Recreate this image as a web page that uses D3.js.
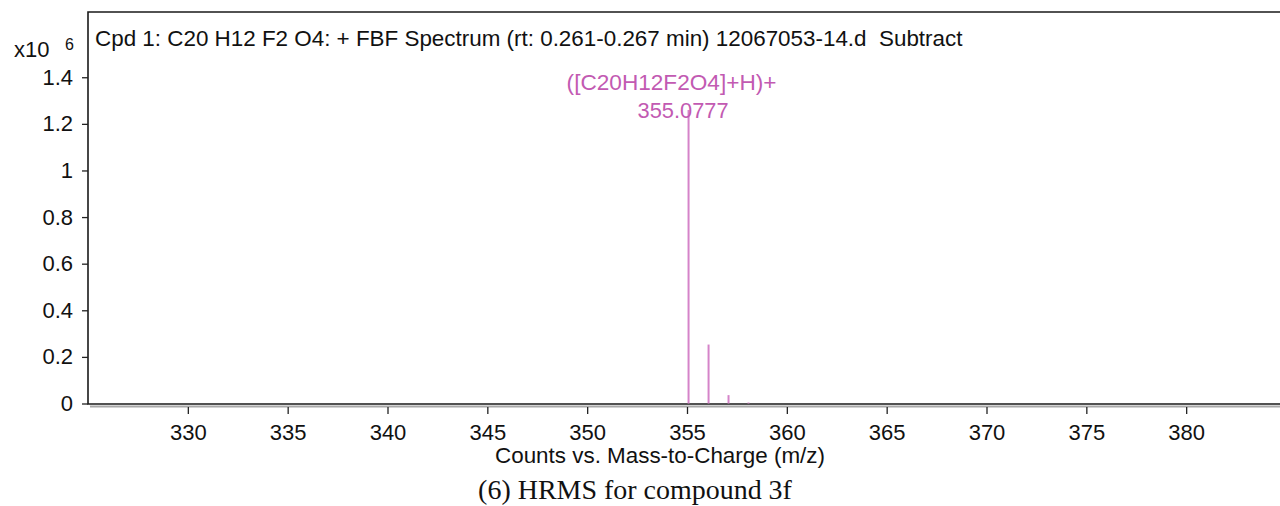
<!DOCTYPE html>
<html>
<head>
<meta charset="utf-8">
<script src="https://cdn.jsdelivr.net/npm/d3@7"></script>
<style>
  html, body { margin: 0; padding: 0; background: #fff; }
  svg { display: block; }
  text { font-family: "Liberation Sans", Arial, Helvetica, sans-serif; fill: #111; }
</style>
</head>
<body>
<svg id="chart" width="1280" height="506"></svg>
<script>
// Spectrum peaks: m/z and abundance (counts)
const peakMz = [355.0777, 356.08, 357.08, 358.08];
const peakCounts = [1.26e6, 0.253e6, 0.036e6, 0.004e6];

// Axis ticks
const xTicks = [330, 335, 340, 345, 350, 355, 360, 365, 370, 375, 380];
const yTicks = [0, 0.2, 0.4, 0.6, 0.8, 1, 1.2, 1.4];   // x10^6

// Annotation of the base peak
const peakLabelIon = "([C20H12F2O4]+H)+";
const peakLabelMz = "355.0777";

const titleText = "Cpd 1: C20 H12 F2 O4: + FBF Spectrum (rt: 0.261-0.267 min) 12067053-14.d\u00a0\u00a0Subtract";
const xAxisTitle = "Counts vs. Mass-to-Charge (m/z)";
const captionText = "(6) HRMS for compound 3f";

const svg = d3.select("#chart");
const frame = { left: 88, top: 12, bottom: 404, right: 1286 };

const x = d3.scaleLinear().domain([325, 385]).range([frame.left, frame.right]);
const y = d3.scaleLinear().domain([0, 1.68e6]).range([frame.bottom - 0.5, frame.top]);

// size a text element so it spans the given width
function fitWidth(sel, width) {
  const base = parseFloat(sel.attr("font-size"));
  const w = sel.node().getComputedTextLength();
  sel.attr("font-size", (base * width / w).toFixed(2));
  return sel;
}

// plot frame: top and left borders, baseline with grey shadow
svg.append("line")
  .attr("x1", frame.left + 2).attr("x2", 1280)
  .attr("y1", frame.bottom + 2.5).attr("y2", frame.bottom + 2.5)
  .attr("stroke", "#a8a8a8").attr("stroke-width", 2);
svg.append("path")
  .attr("d", `M1280,${frame.top}H${frame.left}V${frame.bottom}H1280`)
  .attr("fill", "none").attr("stroke", "#1a1a1a").attr("stroke-width", 1.6);

// y axis
const yAxis = d3.axisLeft(y)
  .tickValues(yTicks.map(v => v * 1e6))
  .tickSize(6).tickPadding(9)
  .tickFormat(d => d3.format("~g")(+(d / 1e6).toFixed(2)));
const gy = svg.append("g").attr("transform", `translate(${frame.left},0)`).call(yAxis);
gy.select(".domain").remove();
gy.selectAll(".tick line").attr("stroke", "#222").attr("stroke-width", 1.3);
gy.selectAll(".tick text")
  .attr("font-family", "Liberation Sans, Arial, sans-serif")
  .attr("font-size", 22).attr("fill", "#111");

// x axis
const xAxis = d3.axisBottom(x)
  .tickValues(xTicks).tickSize(7).tickPadding(10)
  .tickFormat(d3.format("d"));
const gx = svg.append("g").attr("transform", `translate(0,${frame.bottom + 3})`).call(xAxis);
gx.select(".domain").remove();
gx.selectAll(".tick line").attr("stroke", "#222").attr("stroke-width", 1.3);
gx.selectAll(".tick text")
  .attr("font-family", "Liberation Sans, Arial, sans-serif")
  .attr("font-size", 22).attr("fill", "#111");

// spectrum sticks
svg.append("g").selectAll("line")
  .data(peakMz.map((mz, i) => ({ mz, c: peakCounts[i] })))
  .join("line")
  .attr("x1", d => x(d.mz)).attr("x2", d => x(d.mz))
  .attr("y1", y(0)).attr("y2", d => y(d.c))
  .attr("stroke", "#d584c9").attr("stroke-width", 2);

// base peak annotation
const px = x(peakMz[0]);
const py = y(peakCounts[0]);
const ion = svg.append("text")
  .attr("x", px - 17).attr("y", py - 20)
  .attr("text-anchor", "middle").attr("font-size", 21)
  .style("fill", "#c25ab2").text(peakLabelIon);
fitWidth(ion, 210);
const mzLab = svg.append("text")
  .attr("x", px - 5.5).attr("y", py + 8)
  .attr("text-anchor", "middle").attr("font-size", 21)
  .style("fill", "#c25ab2").text(peakLabelMz);
fitWidth(mzLab, 91);

// spectrum header inside the frame
const title = svg.append("text")
  .attr("x", 95).attr("y", 46)
  .attr("font-size", 19).text(titleText);
fitWidth(title, 868);

// exponent marker
svg.append("text").attr("x", 14).attr("y", 57).attr("font-size", 22).text("x10");
svg.append("text").attr("x", 65).attr("y", 50).attr("font-size", 16).text("6");

// x axis title
const xt = svg.append("text")
  .attr("x", 660).attr("y", 463)
  .attr("text-anchor", "middle").attr("font-size", 20).text(xAxisTitle);
fitWidth(xt, 330);

// figure caption
const cap = svg.append("text")
  .attr("x", 635).attr("y", 499)
  .attr("text-anchor", "middle").attr("font-size", 24)
  .style("font-family", "'Liberation Serif', 'Times New Roman', serif")
  .text(captionText);
fitWidth(cap, 314);
</script>
</body>
</html>
